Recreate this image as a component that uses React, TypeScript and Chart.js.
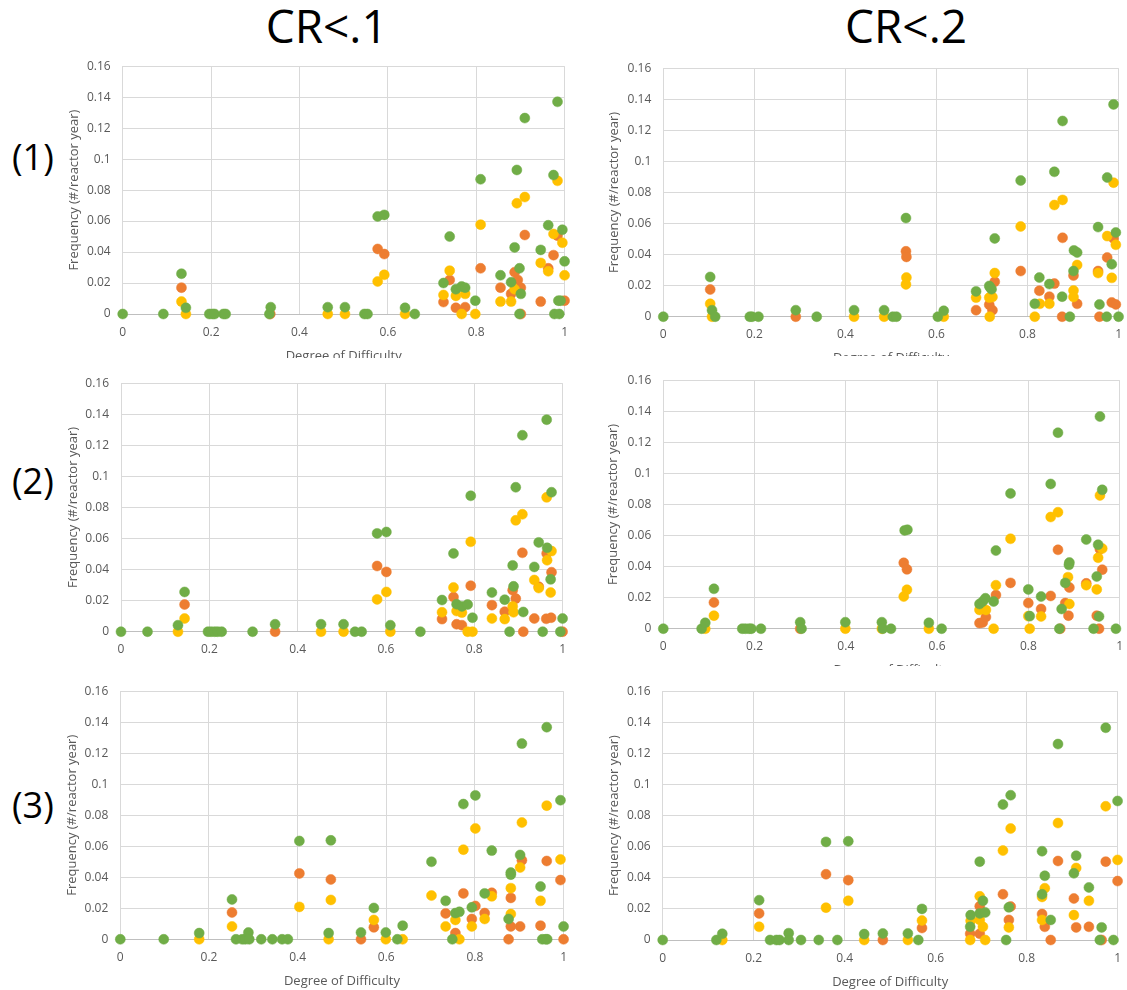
import React, { useEffect, useRef } from "react";
import { Chart, registerables } from "chart.js";
Chart.register(...registerables);

type Pt = [number, number];

const columnTitles = ["CR<.1", "CR<.2"];
const rowLabels = ["(1)", "(2)", "(3)"];
const xAxisTitle = "Degree of Difficulty";
const yAxisTitle = "Frequency (#/reactor year)";
const xTickStep = 0.2;
const yTickStep = 0.02;
const yMax = 0.16;

// Panel (1) CR<.1
const p1Green: Pt[] = [[0,0],[0.092,0],[0.133,0.026],[0.143,0.004],[0.196,0],[0.203,0],[0.208,0],[0.228,0],[0.233,0],[0.332,0],[0.335,0.0044],[0.464,0.0044],[0.503,0.0044],[0.547,0],[0.554,0],[0.577,0.063],[0.592,0.064],[0.639,0.004],[0.661,0],[0.726,0.02],[0.74,0.05],[0.754,0.016],[0.767,0.0178],[0.775,0.017],[0.798,0.0086],[0.81,0.087],[0.855,0.025],[0.879,0.0205],[0.887,0.043],[0.892,0.093],[0.898,0.0295],[0.901,0.013],[0.898,0],[0.91,0.1265],[0.946,0.0414],[0.963,0.0573],[0.975,0.0897],[0.977,0],[0.988,0],[0.984,0.137],[0.986,0.0086],[0.991,0.0086],[0.995,0.0544],[1.0,0.034]];
const p1Yellow: Pt[] = [[0.133,0.008],[0.143,0],[0.464,0],[0.503,0],[0.577,0.021],[0.592,0.0253],[0.639,0],[0.726,0.0123],[0.74,0.028],[0.754,0.0117],[0.767,0],[0.775,0.013],[0.798,0],[0.81,0.0577],[0.855,0.008],[0.879,0.008],[0.887,0.016],[0.892,0.0715],[0.91,0.0755],[0.946,0.033],[0.963,0.0276],[0.975,0.0517],[0.984,0.086],[0.995,0.046],[1.0,0.025]];
const p1Orange: Pt[] = [[0.133,0.017],[0.334,0],[0.577,0.042],[0.592,0.0387],[0.726,0.0077],[0.74,0.022],[0.754,0.004],[0.775,0.0044],[0.81,0.0295],[0.855,0.017],[0.879,0.013],[0.887,0.027],[0.894,0.022],[0.901,0.017],[0.901,0],[0.91,0.051],[0.946,0.008],[0.963,0.0295],[0.975,0.038],[0.984,0.0506],[1.0,0.0086]];

// Panel (1) CR<.2
const p2Green: Pt[] = [[0,0],[0.103,0.0256],[0.107,0.0042],[0.114,0],[0.19,0],[0.195,0],[0.209,0],[0.291,0.0042],[0.337,0],[0.419,0.0042],[0.485,0.0042],[0.504,0],[0.512,0],[0.533,0.0635],[0.603,0],[0.616,0.0038],[0.687,0.0163],[0.716,0.0198],[0.718,0.0188],[0.721,0.0177],[0.728,0.0504],[0.785,0.0877],[0.816,0.0083],[0.826,0.0252],[0.848,0.021],[0.859,0.0933],[0.876,0.0129],[0.877,0.126],[0.893,0],[0.901,0.0294],[0.902,0.0427],[0.909,0.0413],[0.955,0.0577],[0.958,0.0079],[0.974,0],[0.975,0.0896],[0.985,0.0338],[0.989,0.1367],[0.994,0.0542],[1.0,0]];
const p2Yellow: Pt[] = [[0.103,0.0083],[0.107,0],[0.419,0],[0.485,0],[0.533,0.0208],[0.534,0.0252],[0.616,0],[0.687,0.0123],[0.716,0.0123],[0.723,0.0127],[0.717,0],[0.728,0.0281],[0.785,0.0581],[0.816,0],[0.827,0.0083],[0.848,0.0083],[0.859,0.0719],[0.877,0.0752],[0.901,0.0169],[0.901,0.0127],[0.909,0.0333],[0.955,0.0281],[0.975,0.0519],[0.985,0.025],[0.989,0.0863],[0.994,0.0463]];
const p2Orange: Pt[] = [[0.103,0.0175],[0.291,0],[0.533,0.0421],[0.534,0.0385],[0.687,0.0042],[0.716,0.0077],[0.723,0.0042],[0.728,0.0225],[0.785,0.0294],[0.826,0.0167],[0.848,0.0129],[0.859,0.0213],[0.876,0],[0.877,0.0508],[0.901,0.0265],[0.909,0.0083],[0.955,0.0294],[0.958,0],[0.975,0.0381],[0.985,0.0092],[0.994,0.0079],[0.989,0.0504]];

// Panel (2) CR<.1
const p3Green: Pt[] = [[0,0],[0.06,0],[0.129,0.0042],[0.144,0.0256],[0.197,0],[0.204,0],[0.212,0],[0.219,0],[0.228,0],[0.298,0],[0.349,0.0048],[0.453,0.0048],[0.504,0.0048],[0.53,0],[0.545,0],[0.58,0.0633],[0.601,0.0642],[0.61,0.0042],[0.678,0],[0.727,0.0204],[0.753,0.0504],[0.76,0.0177],[0.772,0.0163],[0.785,0.0175],[0.792,0.0875],[0.796,0.009],[0.84,0.0252],[0.869,0.0206],[0.88,0],[0.887,0.0427],[0.889,0.0292],[0.894,0.093],[0.909,0.1265],[0.911,0.0127],[0.936,0.0417],[0.946,0.0575],[0.955,0],[0.964,0.1365],[0.965,0.054],[0.975,0.0898],[0.973,0.0337],[0.995,0],[1.0,0.0085]];
const p3Yellow: Pt[] = [[0.129,0],[0.144,0.0085],[0.453,0],[0.504,0],[0.58,0.0208],[0.601,0.0256],[0.61,0],[0.727,0.0125],[0.753,0.0285],[0.76,0.0133],[0.772,0.0123],[0.785,0],[0.796,0],[0.792,0.0579],[0.84,0.0085],[0.869,0.0081],[0.887,0.0163],[0.889,0.0125],[0.894,0.0717],[0.909,0.0756],[0.936,0.0333],[0.946,0.0281],[0.964,0.0865],[0.965,0.046],[0.975,0.0519],[0.973,0.0252]];
const p3Orange: Pt[] = [[0.144,0.0175],[0.349,0],[0.58,0.0423],[0.601,0.0385],[0.727,0.0081],[0.753,0.0223],[0.76,0.0048],[0.772,0.0042],[0.792,0.0296],[0.84,0.0171],[0.869,0.0129],[0.887,0.0267],[0.894,0.0213],[0.909,0.0508],[0.911,0],[0.936,0.0085],[0.946,0.029],[0.963,0.0083],[0.964,0.0504],[0.975,0.0383],[0.974,0.009],[1.0,0]];

// Panel (2) CR<.2
const p4Green: Pt[] = [[0,0],[0.084,0],[0.092,0.0038],[0.111,0.0257],[0.173,0],[0.18,0],[0.188,0],[0.193,0],[0.214,0],[0.3,0.0042],[0.303,0],[0.399,0.0042],[0.479,0.0042],[0.481,0],[0.499,0],[0.529,0.0633],[0.535,0.0637],[0.582,0.0038],[0.61,0],[0.693,0.0159],[0.7,0.0175],[0.706,0.0196],[0.724,0.0175],[0.729,0.0503],[0.761,0.0871],[0.8,0.0253],[0.803,0.0081],[0.828,0.0207],[0.849,0.0932],[0.865,0.1262],[0.868,0],[0.873,0.0127],[0.881,0.0295],[0.89,0.0426],[0.889,0.0411],[0.927,0.0574],[0.943,0],[0.95,0.0336],[0.953,0.0541],[0.955,0.0079],[0.957,0.1366],[0.962,0.0894],[0.992,0]];
const p4Yellow: Pt[] = [[0.092,0],[0.111,0.0084],[0.399,0],[0.479,0],[0.527,0.0207],[0.534,0.0251],[0.582,0],[0.693,0.0121],[0.707,0.0121],[0.724,0],[0.729,0.028],[0.761,0.0579],[0.8,0.0081],[0.803,0],[0.828,0.0079],[0.849,0.0719],[0.865,0.075],[0.887,0.0332],[0.89,0.0159],[0.927,0.028],[0.95,0.0253],[0.953,0.0457],[0.957,0.0858],[0.962,0.0516]];
const p4Orange: Pt[] = [[0.111,0.0169],[0.3,0],[0.527,0.0424],[0.534,0.0382],[0.693,0.0036],[0.7,0.004],[0.707,0.0075],[0.729,0.0217],[0.761,0.0295],[0.8,0.0165],[0.828,0.0127],[0.849,0.0211],[0.865,0.0508],[0.87,0],[0.881,0.0165],[0.89,0.0265],[0.888,0.0084],[0.927,0.0292],[0.95,0.0084],[0.955,0],[0.957,0.0512],[0.962,0.038]];

// Panel (3) CR<.1
const p5Green: Pt[] = [[0,0],[0.098,0],[0.178,0.004],[0.252,0.0257],[0.261,0],[0.275,0],[0.282,0],[0.289,0.0044],[0.291,0],[0.318,0],[0.343,0],[0.365,0],[0.378,0],[0.404,0.0634],[0.47,0.004],[0.475,0.0638],[0.543,0.0044],[0.572,0.0202],[0.599,0.0044],[0.625,0],[0.637,0.0088],[0.702,0.05],[0.734,0.0248],[0.749,0],[0.756,0.0169],[0.765,0.0177],[0.793,0.0206],[0.801,0.0928],[0.774,0.0872],[0.822,0.0296],[0.838,0.0572],[0.876,0.0131],[0.881,0.043],[0.881,0.0417],[0.902,0.0544],[0.906,0.1262],[0.948,0.034],[0.952,0],[0.96,0],[0.963,0],[0.962,0.1368],[0.993,0.0897],[1.0,0.0083]];
const p5Yellow: Pt[] = [[0.178,0],[0.252,0.0083],[0.404,0.0209],[0.47,0],[0.475,0.0254],[0.572,0.0125],[0.599,0],[0.637,0],[0.702,0.0282],[0.734,0.0083],[0.756,0.0125],[0.765,0],[0.774,0.0578],[0.793,0.0083],[0.801,0.0715],[0.822,0.0131],[0.838,0.0277],[0.881,0.033],[0.881,0.0163],[0.902,0.0463],[0.906,0.0753],[0.948,0.0248],[0.962,0.0862],[0.993,0.0515]];
const p5Orange: Pt[] = [[0.252,0.0173],[0.404,0.0425],[0.475,0.0386],[0.543,0],[0.572,0.0077],[0.734,0.0167],[0.756,0.004],[0.774,0.0296],[0.793,0.0131],[0.801,0.0215],[0.822,0.0169],[0.838,0.03],[0.876,0],[0.881,0.0083],[0.881,0.0267],[0.902,0.0083],[0.906,0.0509],[0.948,0.0088],[0.962,0.0505],[0.993,0.0382],[1.0,0]];

// Panel (3) CR<.2
const p6Green: Pt[] = [[0,0],[0.118,0],[0.131,0.004],[0.212,0.0256],[0.236,0],[0.25,0],[0.257,0],[0.277,0.0044],[0.277,0],[0.304,0],[0.343,0],[0.359,0.0631],[0.384,0],[0.408,0.0635],[0.443,0.0038],[0.484,0.0042],[0.539,0.0042],[0.562,0],[0.57,0.02],[0.676,0.0085],[0.677,0.016],[0.697,0.0504],[0.697,0.0171],[0.704,0.0252],[0.709,0.0177],[0.748,0.0871],[0.755,0],[0.761,0.021],[0.765,0.0931],[0.834,0.0571],[0.834,0.0294],[0.84,0.0413],[0.853,0.0129],[0.869,0.126],[0.904,0.0429],[0.909,0.0542],[0.937,0.0338],[0.961,0],[0.965,0.0081],[0.974,0.1365],[0.991,0],[1.0,0.0894]];
const p6Yellow: Pt[] = [[0.131,0],[0.212,0.0085],[0.359,0.0208],[0.408,0.0252],[0.443,0],[0.539,0],[0.57,0.0125],[0.676,0],[0.677,0.0123],[0.697,0.0281],[0.697,0.0129],[0.704,0.0085],[0.709,0],[0.748,0.0575],[0.761,0.0081],[0.765,0.0717],[0.834,0.0277],[0.834,0.0129],[0.84,0.0333],[0.869,0.0752],[0.904,0.016],[0.909,0.0463],[0.937,0.0252],[0.974,0.086],[1.0,0.0515]];
const p6Orange: Pt[] = [[0.212,0.0171],[0.359,0.0423],[0.408,0.0385],[0.484,0],[0.57,0.0077],[0.676,0.004],[0.697,0.0217],[0.697,0.004],[0.748,0.0294],[0.761,0.0129],[0.765,0.0215],[0.834,0.0167],[0.84,0.0085],[0.853,0],[0.869,0.0508],[0.904,0.0267],[0.909,0.0081],[0.937,0.0085],[0.965,0],[0.974,0.0504],[1.0,0.0379]];

const GREEN = "#70AD47";
const YELLOW = "#FFC000";
const ORANGE = "#ED7D31";
const TEXT = "#595959";
const GRID = "#d9d9d9";
const FONT = "'Open Sans', 'Noto Sans', sans-serif";

const panelSeries = [
  [p1Green, p1Yellow, p1Orange],
  [p2Green, p2Yellow, p2Orange],
  [p3Green, p3Yellow, p3Orange],
  [p4Green, p4Yellow, p4Orange],
  [p5Green, p5Yellow, p5Orange],
  [p6Green, p6Yellow, p6Orange],
];
const seriesColors = [GREEN, YELLOW, ORANGE];

// plot-area rectangles (page px), y-title center x, clip bottom
const layouts = [
  { L: 122.7, R: 567, T: 59, B: 314, tx: 73.3, clip: 358 },
  { L: 663.3, R: 1121, T: 60.7, B: 316.7, tx: 613.3, clip: 356 },
  { L: 121, R: 565, T: 375.7, B: 631.7, tx: 72.3, clip: 653 },
  { L: 663.3, R: 1121.5, T: 373.3, B: 628.7, tx: 612.3, clip: 666 },
  { L: 120.3, R: 565.3, T: 683.7, B: 939.3, tx: 71.7, clip: 990 },
  { L: 662.7, R: 1120, T: 684, B: 940, tx: 613.3, clip: 990 },
];

function geom(l: typeof layouts[number]) {
  const left = Math.round(l.tx - 7.8);
  const top = Math.round(l.T - 12);
  const yW = l.L - left;
  const padTop = l.T - top;
  const width = Math.ceil(l.R - left + 12);
  const padRight = width - (l.R - left);
  const height = Math.round(padTop + (l.B - l.T) + 49.5);
  const xH = height - padTop - (l.B - l.T);
  return { left, top, width, height, yW, padTop, padRight, xH, clipH: Math.min(height, l.clip - top) };
}

const fmt = (v: any) => String(Math.round(Number(v) * 1000) / 1000);

function Panel({ idx }: { idx: number }) {
  const ref = useRef<HTMLCanvasElement>(null);
  const g = geom(layouts[idx]);
  useEffect(() => {
    if (!ref.current) return;
    const chart = new Chart(ref.current, {
      type: "scatter",
      data: {
        datasets: panelSeries[idx].map((pts, i) => ({
          data: pts.map(([x, y]) => ({ x, y })),
          backgroundColor: seriesColors[i],
          borderColor: seriesColors[i],
          borderWidth: 0.5,
          pointRadius: 5,
          pointHoverRadius: 5,
          clip: false as any,
        })),
      },
      options: {
        responsive: false,
        animation: false,
        devicePixelRatio: 1,
        layout: { padding: { top: g.padTop, right: g.padRight, left: 0, bottom: 0 } },
        plugins: { legend: { display: false }, tooltip: { enabled: false } },
        scales: {
          x: {
            type: "linear",
            min: 0,
            max: 1,
            ticks: { stepSize: xTickStep, padding: 11, color: TEXT, font: { family: FONT, size: 12 }, callback: fmt, maxRotation: 0 },
            grid: { color: GRID, drawTicks: false },
            border: { color: "#bfbfbf" },
            title: { display: true, text: xAxisTitle, color: TEXT, font: { family: FONT, size: 13 }, padding: 0 },
            afterFit: (s: any) => { s.height = g.xH; },
          },
          y: {
            type: "linear",
            min: 0,
            max: yMax,
            ticks: { stepSize: yTickStep, padding: 12, color: TEXT, font: { family: FONT, size: 12 }, callback: fmt },
            grid: { color: GRID, drawTicks: false },
            border: { color: GRID },
            title: { display: true, text: yAxisTitle, color: TEXT, font: { family: FONT, size: 13 }, padding: 0 },
            afterFit: (s: any) => { s.width = g.yW; },
          },
        },
      },
    } as any);
    return () => chart.destroy();
  }, [idx]);
  return (
    <div style={{ position: "absolute", left: g.left, top: g.top, width: g.width, height: g.clipH, overflow: "hidden" }}>
      <canvas ref={ref} width={g.width} height={g.height} style={{ display: "block" }} />
    </div>
  );
}

export default function App() {
  const titleCenters = [326.7, 906];
  const rowTops = [139, 463.4, 787.4];
  return (
    <div style={{ position: "absolute", left: 0, top: 0, width: 1127, height: 990, overflow: "hidden", background: "#fff", fontFamily: FONT }}>
      {columnTitles.map((t, i) => (
        <div key={t} style={{ position: "absolute", left: titleCenters[i], top: 2.4, transform: "translateX(-50%)", fontSize: 46, lineHeight: "46px", color: "#000", whiteSpace: "nowrap" }}>{t}</div>
      ))}
      {rowLabels.map((t, i) => (
        <div key={t} style={{ position: "absolute", left: 12, top: rowTops[i], fontSize: 36, lineHeight: "36px", color: "#000", whiteSpace: "nowrap" }}>{t}</div>
      ))}
      {layouts.map((_, i) => <Panel key={i} idx={i} />)}
    </div>
  );
}
